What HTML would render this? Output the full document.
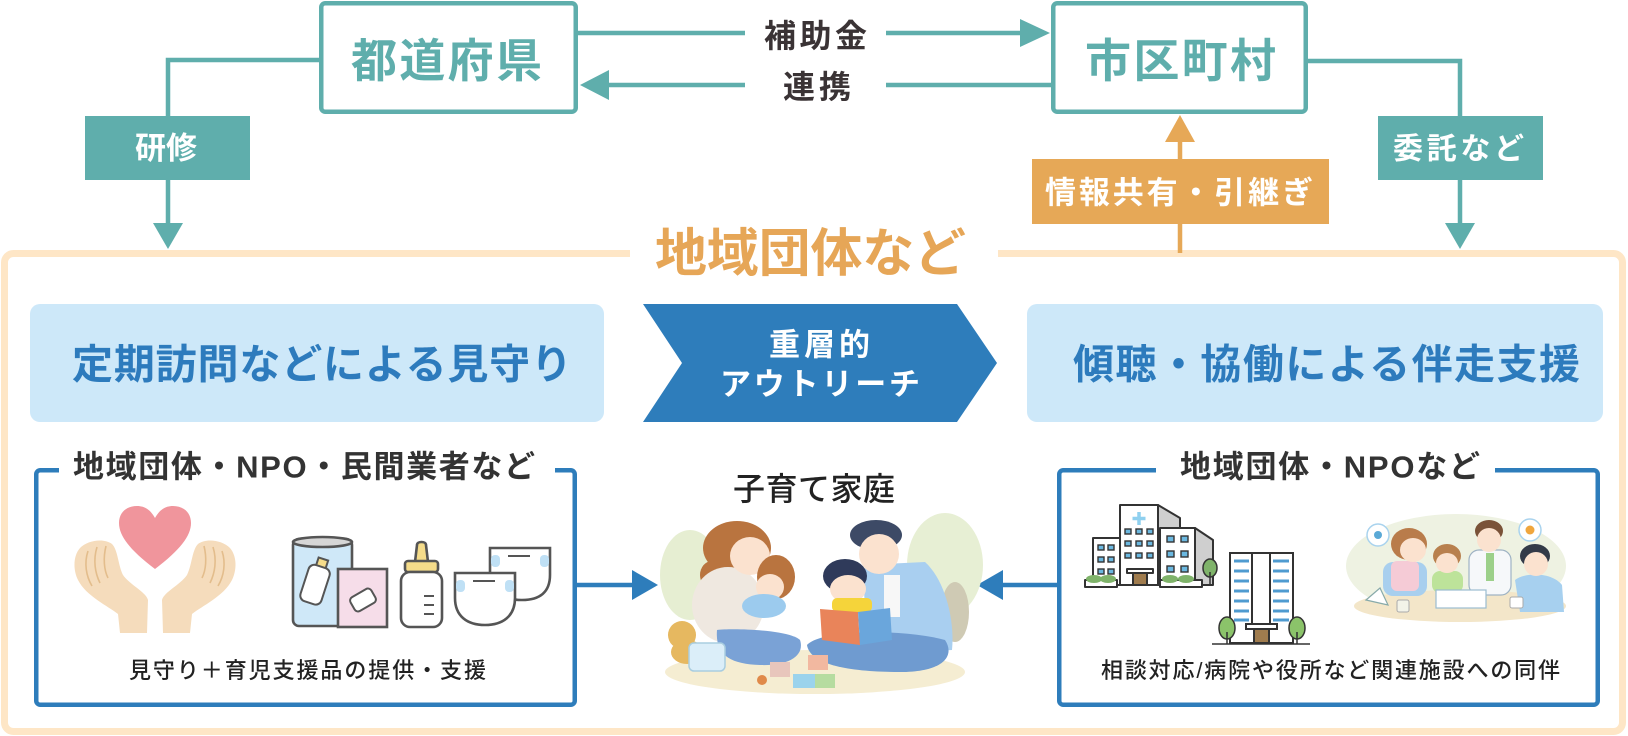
<!DOCTYPE html>
<html lang="ja">
<head>
<meta charset="utf-8">
<style>
  html, body { margin: 0; padding: 0; background: #fff; }
  body { width: 1628px; height: 736px; overflow: hidden; }
  svg { display: block; }
  text { font-family: "Liberation Sans", "Noto Sans CJK JP", sans-serif; }
  .b { font-weight: 700; }
  .m { font-weight: 500; }
</style>
</head>
<body>
<svg width="1628" height="736" viewBox="0 0 1628 736" xmlns="http://www.w3.org/2000/svg">
  <rect width="1628" height="736" fill="#fff"/>

  <!-- outer beige frame -->
  <rect x="4.5" y="253.5" width="1618" height="478" rx="9" fill="none" stroke="#fee6c6" stroke-width="7"/>
  <rect x="630" y="244" width="368" height="20" fill="#fff"/>
  <text class="b" x="655" y="271.5" font-size="52" fill="#e6a657" textLength="311">地域団体など</text>

  <!-- top connectors -->
  <g stroke="#5faeac" stroke-width="4.5" fill="none">
    <path d="M578,33 H745 M886,33 H1022"/>
    <path d="M1052,85 H886 M745,85 H606"/>
    <path d="M320,60 H168 V116 M168,180 V226"/>
    <path d="M1307,61 H1460 V116 M1460,180 V226"/>
  </g>
  <g fill="#5faeac">
    <polygon points="1020,19 1050,33 1020,47"/>
    <polygon points="609,70 580,85 609,100"/>
    <polygon points="153,223 183,223 168,249"/>
    <polygon points="1445,223 1475,223 1460,249"/>
  </g>
  <path d="M1180,253 V224 M1180,159 V140" stroke="#e6a857" stroke-width="4.5" fill="none"/>
  <polygon points="1165,142 1195,142 1180,115" fill="#e6a857"/>

  <text class="b" x="764" y="47" font-size="32" fill="#3a3335" textLength="103">補助金</text>
  <text class="b" x="783" y="98" font-size="32" fill="#3a3335" textLength="68">連携</text>

  <!-- top boxes -->
  <rect x="321.25" y="3.25" width="254.5" height="108.5" rx="4" fill="#fff" stroke="#5faeac" stroke-width="4.5"/>
  <text class="b" x="351" y="77" font-size="46" fill="#5faeac" textLength="191">都道府県</text>
  <rect x="1053.25" y="3.25" width="252.5" height="108.5" rx="4" fill="#fff" stroke="#5faeac" stroke-width="4.5"/>
  <text class="b" x="1085" y="77" font-size="46" fill="#5faeac" textLength="191">市区町村</text>

  <rect x="85" y="116" width="165" height="64" fill="#5faeac"/>
  <text class="b" x="166" y="159" font-size="31" fill="#fff" text-anchor="middle">研修</text>
  <rect x="1378" y="116" width="165" height="64" fill="#5faeac"/>
  <text class="b" x="1393" y="159" font-size="30" fill="#fff" textLength="131">委託など</text>
  <rect x="1032" y="159" width="297" height="65" fill="#e6a857"/>
  <text class="b" x="1045" y="203.5" font-size="31" fill="#fff" textLength="268">情報共有・引継ぎ</text>

  <!-- light blue headers -->
  <rect x="30" y="304" width="574" height="118" rx="10" fill="#cde8f9"/>
  <text class="b" x="72" y="378.5" font-size="41" fill="#2d7bbd" textLength="500">定期訪問などによる見守り</text>
  <rect x="1027" y="304" width="576" height="118" rx="10" fill="#cde8f9"/>
  <text class="b" x="1073" y="378.5" font-size="41" fill="#2d7bbd" textLength="507">傾聴・協働による伴走支援</text>

  <!-- chevron -->
  <polygon points="643,304 957,304 997,363 957,422 643,422 682,363" fill="#2e7dbb"/>
  <text class="b" x="769" y="355.5" font-size="31" fill="#fff" textLength="101">重層的</text>
  <text class="b" x="720" y="395" font-size="31" fill="#fff" textLength="200">アウトリーチ</text>

  <!-- bottom blue boxes -->
  <rect x="36.25" y="470.25" width="538.5" height="234.5" rx="4" fill="#fff" stroke="#2e7dbb" stroke-width="4.5"/>
  <rect x="59" y="462" width="496" height="14" fill="#fff"/>
  <text class="b" x="73" y="477.5" font-size="31" fill="#333" textLength="462">地域団体・NPO・民間業者など</text>
  <text class="m" x="129" y="678" font-size="22" fill="#222" textLength="357">見守り＋育児支援品の提供・支援</text>

  <rect x="1059.25" y="470.25" width="538.5" height="234.5" rx="4" fill="#fff" stroke="#2e7dbb" stroke-width="4.5"/>
  <rect x="1156" y="462" width="339" height="14" fill="#fff"/>
  <text class="b" x="1180" y="477.5" font-size="31" fill="#333" textLength="300">地域団体・NPOなど</text>
  <text class="m" x="1101" y="678" font-size="22" fill="#222" textLength="459">相談対応/病院や役所など関連施設への同伴</text>

  <!-- middle connectors -->
  <path d="M577,585 H634 M1057,585 H1001" stroke="#2e7dbb" stroke-width="4.5"/>
  <polygon points="632,570 658,585 632,600" fill="#2e7dbb"/>
  <polygon points="1003,570 977,585 1003,600" fill="#2e7dbb"/>

  <text class="m" x="733" y="500" font-size="32" fill="#222" textLength="162">子育て家庭</text>

  <!-- ===== left icons ===== -->
  <path d="M155,569 C130,550 119,536 119,523 C119,512 127,506 137,506 C146,506 151,511 155,518 C159,511 164,506 173,506 C183,506 191,512 191,523 C191,536 180,550 155,569 Z" fill="#f0959c"/>
  <g id="hand">
    <path d="M120,633 L147,633 L148,600 C146,592 130,585 123,575 C118,565 118,550 112,544 C104,538 88,540 80,548 C73,556 73,570 78,580 C86,596 108,606 118,614 Z" fill="#f5dcbc"/>
    <path d="M88,551 C84,563 86,576 92,586 M97,547 C93,560 95,573 100,583 M106,546 C103,558 104,570 108,578" stroke="#e3bd8c" stroke-width="1.6" fill="none"/>
  </g>
  <use href="#hand" transform="translate(310,0) scale(-1,1)"/>

  <g stroke="#555" stroke-width="2.6">
    <rect x="293" y="539" width="59" height="87" rx="6" fill="#cfe8f8"/>
    <ellipse cx="322.5" cy="542" rx="29.5" ry="5" fill="#d6d6d6"/>
    <g transform="rotate(18 316 585)">
      <rect x="310" y="558" width="10" height="9" fill="#f5dc8a" stroke-width="2"/>
      <rect x="304" y="566" width="22" height="38" rx="6" fill="#fff" stroke-width="2"/>
    </g>
    <rect x="338" y="569" width="49" height="58" fill="#f6dde9"/>
    <g transform="rotate(-30 363 600)">
      <rect x="351" y="592" width="24" height="16" rx="4" fill="#fff" stroke-width="2"/>
    </g>
    <path d="M417,545 C417,541 426,541 426,545 L428,562 L415,562 Z" fill="#f5dc8a"/>
    <rect x="405" y="561" width="33" height="11" rx="3" fill="#f5dc8a"/>
    <rect x="401" y="572" width="41" height="55" rx="9" fill="#fff"/>
    <path d="M424,596 H434 M424,605 H434 M424,614 H434" stroke-width="2"/>
    <path d="M490,548 L550,548 L550,575 C550,592 540,600 522,600 L522,600 C505,600 490,592 490,575 Z" fill="#fff"/>
    <path d="M455,573 L515,573 L515,598 C515,616 503,625 485,625 C467,625 455,616 455,598 Z" fill="#fff"/>
  </g>
  <g fill="#bfe0f5">
    <rect x="491" y="555" width="9" height="12" rx="4"/>
    <rect x="540" y="555" width="9" height="12" rx="4"/>
    <rect x="456" y="580" width="9" height="12" rx="4"/>
    <rect x="505" y="580" width="9" height="12" rx="4"/>
  </g>
  <path d="M508,556 H530 M473,581 H495" stroke="#555" stroke-width="2"/>

  <!-- ===== family illustration ===== -->
  <g>
    <ellipse cx="690" cy="575" rx="30" ry="45" fill="#e6eed2"/>
    <ellipse cx="945" cy="565" rx="38" ry="52" fill="#e7efd4"/>
    <ellipse cx="815" cy="672" rx="150" ry="22" fill="#f5edd2"/>
    <ellipse cx="955" cy="612" rx="14" ry="30" fill="#cfcab4"/>
    <ellipse cx="737" cy="548" rx="34" ry="27" fill="#b9743f"/>
    <ellipse cx="712" cy="575" rx="12" ry="14" fill="#b9743f"/>
    <ellipse cx="728" cy="605" rx="36" ry="38" fill="#efe8e0"/>
    <ellipse cx="750" cy="556" rx="20" ry="19" fill="#fbe2cf"/>
    <path d="M717,630 C735,628 790,630 800,640 C805,655 790,666 760,665 C730,664 715,655 717,630 Z" fill="#7aa2d6"/>
    <ellipse cx="776" cy="577" rx="19" ry="22" fill="#b9743f"/>
    <ellipse cx="770" cy="587" rx="14" ry="13" fill="#fbe2cf"/>
    <ellipse cx="764" cy="606" rx="22" ry="12" fill="#9ccbee"/>
    <path d="M865,565 L925,562 C945,580 955,620 952,650 L872,655 C866,625 862,590 865,565 Z" fill="#a9cff0"/>
    <rect x="884" y="575" width="16" height="42" fill="#f7f7f7"/>
    <ellipse cx="876" cy="535" rx="26" ry="15" fill="#3d4a66"/>
    <ellipse cx="879" cy="554" rx="20" ry="20" fill="#fbe2cf"/>
    <path d="M807,645 C820,630 900,628 945,640 C955,655 945,672 900,672 C850,672 810,665 807,645 Z" fill="#6f9bd0"/>
    <ellipse cx="845" cy="576" rx="22" ry="17" fill="#2f3a5a"/>
    <ellipse cx="848" cy="589" rx="18" ry="14" fill="#fbe2cf"/>
    <rect x="832" y="598" width="40" height="14" rx="5" fill="#f5d43a"/>
    <polygon points="820,609 858,612 860,645 822,640" fill="#e9845a"/>
    <polygon points="858,612 890,608 892,640 860,645" fill="#6aa6dc"/>
    <circle cx="682" cy="635" r="14" fill="#e6b860"/>
    <ellipse cx="687" cy="652" rx="16" ry="12" fill="#e6b860"/>
    <rect x="689" y="643" width="36" height="28" rx="5" fill="#dbeef9" stroke="#a9cde0" stroke-width="1.5"/>
    <rect x="808" y="655" width="20" height="15" fill="#f2b8a0"/>
    <rect x="770" y="662" width="20" height="15" fill="#e8c6bc"/>
    <rect x="793" y="674" width="22" height="14" fill="#9bd3ec"/>
    <rect x="815" y="674" width="20" height="14" fill="#b6dca0"/>
    <circle cx="762" cy="680" r="5" fill="#e08a4a"/>
  </g>

  <!-- ===== right icons: hospital ===== -->
  <g stroke="#333" stroke-width="2" stroke-linejoin="round">
    <polygon points="1158,505 1180,518 1180,585 1158,585" fill="#cfcfcf"/>
    <rect x="1120" y="505" width="38" height="80" fill="#fff"/>
    <rect x="1093" y="538" width="27" height="47" fill="#fff"/>
    <polygon points="1195,528 1213,540 1213,585 1195,585" fill="#cfcfcf"/>
    <rect x="1160" y="528" width="35" height="57" fill="#fff"/>
    <rect x="1085" y="580" width="32" height="7" fill="#fff"/>
    <rect x="1160" y="580" width="42" height="7" fill="#fff"/>
    <rect x="1133" y="572" width="14" height="13" fill="#a07c4e"/>
    <rect x="1127" y="569" width="26" height="4" fill="#fff"/>
  </g>
  <path d="M1139,512 V525 M1132.5,518.5 H1145.5" stroke="#8fd0ef" stroke-width="3.5"/>
  <g fill="#6bb8e0" stroke="#333" stroke-width="1.4">
    <rect x="1125" y="529" width="6" height="5"/><rect x="1136" y="529" width="6" height="5"/><rect x="1147" y="529" width="6" height="5"/>
    <rect x="1125" y="541" width="6" height="5"/><rect x="1136" y="541" width="6" height="5"/><rect x="1147" y="541" width="6" height="5"/>
    <rect x="1125" y="553" width="6" height="5"/><rect x="1136" y="553" width="6" height="5"/><rect x="1147" y="553" width="6" height="5"/>
    <rect x="1098" y="545" width="6" height="5"/><rect x="1108" y="545" width="6" height="5"/>
    <rect x="1098" y="557" width="6" height="5"/><rect x="1108" y="557" width="6" height="5"/>
    <rect x="1098" y="569" width="6" height="5"/><rect x="1108" y="569" width="6" height="5"/>
    <rect x="1167" y="536" width="7" height="6"/><rect x="1181" y="536" width="7" height="6"/>
    <rect x="1167" y="551" width="7" height="6"/><rect x="1181" y="551" width="7" height="6"/>
    <rect x="1167" y="566" width="7" height="6"/><rect x="1181" y="566" width="7" height="6"/>
  </g>
  <g fill="#7fb36a">
    <ellipse cx="1094" cy="579" rx="8" ry="4"/><ellipse cx="1108" cy="579" rx="8" ry="4"/>
    <ellipse cx="1170" cy="579" rx="8" ry="4"/><ellipse cx="1186" cy="579" rx="8" ry="4"/>
    <ellipse cx="1210" cy="568" rx="7" ry="9" stroke="#333" stroke-width="1.5"/>
  </g>
  <path d="M1210,572 V586" stroke="#333" stroke-width="1.5"/>

  <g stroke="#333" stroke-width="2">
    <rect x="1230" y="553" width="63" height="90" fill="#fff"/>
    <rect x="1252" y="553" width="18" height="75" fill="#fff"/>
    <rect x="1246" y="624" width="31" height="5" fill="#fff"/>
    <rect x="1254" y="629" width="15" height="14" fill="#a07c4e"/>
  </g>
  <g stroke="#4f9bd0" stroke-width="3">
    <path d="M1234,561 H1249 M1234,571 H1249 M1234,581 H1249 M1234,591 H1249 M1234,601 H1249 M1234,611 H1249 M1234,620 H1249"/>
    <path d="M1273,561 H1289 M1273,571 H1289 M1273,581 H1289 M1273,591 H1289 M1273,601 H1289 M1273,611 H1289 M1273,620 H1289"/>
  </g>
  <g fill="#8bc36a" stroke="#333" stroke-width="1.5">
    <ellipse cx="1227" cy="628" rx="8" ry="11"/>
    <ellipse cx="1297" cy="628" rx="8" ry="11"/>
  </g>
  <path d="M1227,632 V644 M1297,632 V644 M1212,644 H1310" stroke="#333" stroke-width="1.5"/>

  <!-- meeting illustration -->
  <g>
    <ellipse cx="1456" cy="566" rx="110" ry="52" fill="#eef2e2"/>
    <ellipse cx="1460" cy="606" rx="106" ry="16" fill="#f3e6c9"/>
    <rect x="1383" y="562" width="44" height="34" rx="10" fill="#a8cfee"/>
    <rect x="1391" y="561" width="28" height="30" rx="6" fill="#f5cbd6"/>
    <ellipse cx="1409" cy="544" rx="18" ry="16" fill="#b97c4b"/>
    <ellipse cx="1413" cy="550" rx="13" ry="12" fill="#fbe2cf"/>
    <rect x="1432" y="571" width="31" height="22" rx="8" fill="#bde39a"/>
    <ellipse cx="1447" cy="556" rx="14" ry="12" fill="#b8804e"/>
    <ellipse cx="1447" cy="563" rx="11" ry="10" fill="#fbe2cf"/>
    <rect x="1469" y="550" width="42" height="45" rx="10" fill="#f6f8fa" stroke="#9fb3c4" stroke-width="1.2"/>
    <rect x="1486" y="553" width="8" height="28" fill="#9cd08a"/>
    <ellipse cx="1489" cy="531" rx="14" ry="11" fill="#7a5238"/>
    <ellipse cx="1489" cy="540" rx="12" ry="12" fill="#fbe2cf"/>
    <path d="M1515,580 C1525,572 1552,572 1562,585 L1564,612 L1520,612 Z" fill="#a7d0ef"/>
    <ellipse cx="1535" cy="556" rx="15" ry="12" fill="#333a48"/>
    <ellipse cx="1536" cy="564" rx="12" ry="12" fill="#fbe2cf"/>
    <rect x="1436" y="590" width="50" height="18" fill="#fff" stroke="#9bbcd0" stroke-width="1.2"/>
    <rect x="1397" y="600" width="12" height="12" rx="2" fill="#f3f3e8" stroke="#aaa" stroke-width="1"/>
    <rect x="1510" y="597" width="13" height="11" rx="2" fill="#fff" stroke="#aaa" stroke-width="1"/>
    <polygon points="1366,600 1380,588 1388,605" fill="#fff" stroke="#8aa" stroke-width="1.2"/>
    <circle cx="1378" cy="535" r="11" fill="#fff" stroke="#a9d3ee" stroke-width="1.5"/>
    <circle cx="1378" cy="535" r="4" fill="#5aa9d6"/>
    <circle cx="1530" cy="530" r="11" fill="#fff" stroke="#a9d3ee" stroke-width="1.5"/>
    <circle cx="1530" cy="530" r="4.5" fill="#f0a63d"/>
  </g>
</svg>
</body>
</html>
